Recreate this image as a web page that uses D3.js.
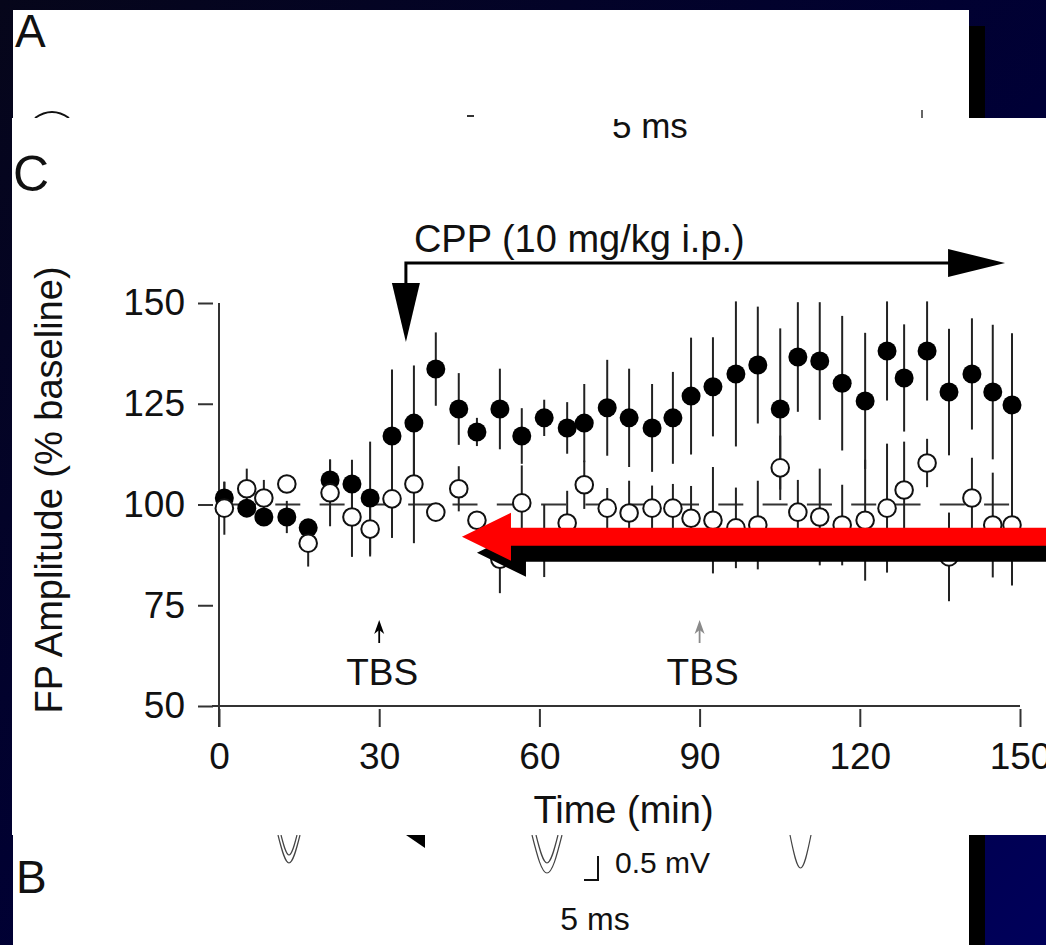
<!DOCTYPE html>
<html>
<head>
<meta charset="utf-8">
<script src="https://cdn.jsdelivr.net/npm/d3@7"></script>
<style>
  html, body { margin: 0; padding: 0; background: #000; }
  svg { display: block; font-family: "Liberation Sans", Arial, Helvetica, sans-serif; }
</style>
</head>
<body>
<svg id="slide" width="1046" height="945"></svg>
<script>
// Sampling times (min)
const times = [1, 5.2, 8.4, 12.7, 16.7, 20.8, 24.9, 28.3, 32.4, 36.5, 40.6, 44.9, 48.3, 52.6,
  56.7, 60.9, 65.2, 68.4, 72.7, 76.8, 81.1, 85.0, 88.4, 92.5, 96.8, 100.9, 105.1, 108.4,
  112.5, 116.7, 121.0, 125.1, 128.3, 132.6, 136.7, 141.0, 144.9, 148.5];

// Filled symbols: FP amplitude (% baseline) and SEM
const filledMean = [101.6, 99.1, 96.9, 96.9, 94.2, 106.1, 105.1, 101.6, 117.0, 120.2, 133.6, 123.7,
  118.0, 123.7, 117.0, 121.5, 119.0, 120.2, 124.0, 121.5, 119.0, 121.5, 126.9, 129.2, 132.4,
  134.6, 123.7, 136.6, 135.6, 130.1, 125.7, 138.1, 131.4, 138.1, 127.9, 132.4, 127.9, 124.7];
const filledSem = [4, 2, 2, 4, 2, 5, 6, 14, 16.5, 14.3, 9.1, 8.9, 3.5, 10, 6.9, 4.5, 6.4, 9.7,
  11.9, 12.2, 10.9, 11.4, 14.5, 12.3, 18, 14.5, 20, 13.6, 14.6, 16.7, 16.9, 12.3, 13.3, 12.3,
  15.7, 13.8, 16.7, 17.8];

// Open symbols: FP amplitude (% baseline) and SEM
const openMean = [99.1, 103.9, 101.6, 105.1, 90.4, 102.9, 96.9, 93.9, 101.4, 105.1, 98.1, 103.9,
  96.1, 86.4, 100.4, 91.0, 95.4, 104.9, 99.1, 97.9, 99.1, 99.1, 96.6, 96.1, 94.2, 94.9, 109.1,
  98.1, 96.9, 94.9, 96.1, 99.1, 103.6, 110.3, 87.0, 101.6, 94.9, 94.9];
const openSem = [6.6, 5, 4.5, 2, 5.8, 8.3, 9.9, 6.8, 9.7, 14.7, 2, 5.6, 2, 8.4, 9.3, 9, 8, 6, 5,
  8, 5.6, 6, 8, 13.2, 10, 11, 8, 8, 12, 10, 15, 16, 12, 6, 11, 10, 13, 15];

const xTicks = [0, 30, 60, 90, 120, 150];
const yTicks = [50, 75, 100, 125, 150];
const tbsTimes = [30, 90];
const cppStart = 35;

const svg = d3.select("#slide");
const W = 1046, H = 945;

// ---- slide background and panels ----
const defs = svg.append("defs");
const grad = defs.append("linearGradient").attr("id", "bg")
  .attr("x1", 0).attr("y1", 0).attr("x2", 1).attr("y2", 1);
grad.append("stop").attr("offset", 0).attr("stop-color", "#06061a");
grad.append("stop").attr("offset", 0.55).attr("stop-color", "#000036");
grad.append("stop").attr("offset", 1).attr("stop-color", "#00005a");
svg.append("rect").attr("width", W).attr("height", H).attr("fill", "url(#bg)");

// panel A (top strip) with drop shadow
svg.append("rect").attr("x", 969).attr("y", 26).attr("width", 16).attr("height", 92).attr("fill", "#000");
svg.append("rect").attr("x", 13).attr("y", 10).attr("width", 956).attr("height", 108).attr("fill", "#fff");
// panel B (bottom strip) with drop shadow
svg.append("rect").attr("x", 969).attr("y", 835).attr("width", 16).attr("height", 110).attr("fill", "#000");
svg.append("rect").attr("x", 13).attr("y", 835).attr("width", 956).attr("height", 110).attr("fill", "#fff");

const ink = "#111";

// panel A pieces
svg.append("text").attr("x", 15).attr("y", 47).attr("font-size", 46).attr("fill", ink).text("A");
svg.append("path").attr("d", "M35,118 Q52,106 69,118").attr("fill", "none").attr("stroke", ink).attr("stroke-width", 2);
svg.append("path").attr("d", "M467,116 L474,116").attr("stroke", "#333").attr("stroke-width", 2);
svg.append("path").attr("d", "M922,110 L922,118").attr("stroke", "#333").attr("stroke-width", 1.5);

// panel B pieces: field-potential traces (V-shaped troughs)
svg.append("text").attr("x", 16).attr("y", 893).attr("font-size", 46).attr("fill", ink).text("B");
const vWave = (x0, x1, depth) => {
  const m = (x0 + x1) / 2, w = (x1 - x0) / 2;
  return `M${x0},835 C${x0 + w * 0.35},${835 + depth * 0.55} ${m - w * 0.35},${835 + depth} ${m},${835 + depth} ` +
    `C${m + w * 0.35},${835 + depth} ${x1 - w * 0.35},${835 + depth * 0.55} ${x1},835`;
};
[[278, 300, 28], [281, 297, 20], [532, 562, 38], [536, 558, 28], [790, 811, 33]].forEach(([a, b, d]) => {
  svg.append("path").attr("d", vWave(a, b, d)).attr("fill", "none").attr("stroke", "#444").attr("stroke-width", 1.2);
});
svg.append("path").attr("d", "M406,835 L425,835 L425,848 Z").attr("fill", "#000");
svg.append("path").attr("d", "M598,856 L598,880 L584,880").attr("fill", "none").attr("stroke", ink).attr("stroke-width", 2);
svg.append("text").attr("x", 615).attr("y", 873).attr("font-size", 30).attr("fill", ink).text("0.5 mV");
svg.append("text").attr("x", 595).attr("y", 930).attr("font-size", 32).attr("text-anchor", "middle").attr("fill", ink).text("5 ms");

// panel C (main chart)
svg.append("rect").attr("x", 12).attr("y", 118).attr("width", W - 12).attr("height", 717).attr("fill", "#fff");
svg.append("text").attr("x", 13).attr("y", 191).attr("font-size", 50).attr("fill", ink).text("C");

// scale-bar label of panel A showing through at the top edge
defs.append("clipPath").attr("id", "topclip").append("rect").attr("x", 0).attr("y", 119).attr("width", W).attr("height", 40);
svg.append("text").attr("x", 612).attr("y", 138).attr("font-size", 35).attr("fill", ink)
  .attr("clip-path", "url(#topclip)").text("5 ms");

// ---- scales ----
const x = d3.scaleLinear().domain([0, 150]).range([219, 1020]);
const y = d3.scaleLinear().domain([50, 150]).range([706, 303]);

const g = svg.append("g");
const axisColor = "#333";

// y axis: detached ticks, separate spine
const yAxis = g.append("g").attr("transform", "translate(213,0)")
  .call(d3.axisLeft(y).tickValues(yTicks).tickSize(15).tickPadding(13).tickFormat(d3.format("d")));
yAxis.select(".domain").remove();
yAxis.selectAll("line").attr("stroke", axisColor).attr("stroke-width", 2);
yAxis.selectAll("text").attr("font-size", 37).attr("fill", ink).attr("font-family", "Liberation Sans, Arial, sans-serif");

const xAxis = g.append("g").attr("transform", "translate(0,709)")
  .call(d3.axisBottom(x).tickValues(xTicks).tickSize(18).tickPadding(16).tickFormat(d3.format("d")));
xAxis.select(".domain").remove();
xAxis.selectAll("line").attr("stroke", axisColor).attr("stroke-width", 2);
xAxis.selectAll("text").attr("font-size", 37).attr("fill", ink).attr("font-family", "Liberation Sans, Arial, sans-serif");

g.append("line").attr("x1", x(0)).attr("x2", x(0)).attr("y1", y(150)).attr("y2", 727)
  .attr("stroke", axisColor).attr("stroke-width", 2);
g.append("line").attr("x1", 212).attr("x2", x(150)).attr("y1", y(50)).attr("y2", y(50))
  .attr("stroke", axisColor).attr("stroke-width", 2);

// axis titles
g.append("text").attr("transform", `translate(62,490) rotate(-90)`)
  .attr("text-anchor", "middle").attr("font-size", 38).attr("fill", ink).text("FP Amplitude (% baseline)");
g.append("text").attr("x", x(75) + 4).attr("y", 823).attr("text-anchor", "middle")
  .attr("font-size", 38).attr("fill", ink).text("Time (min)");

// baseline at 100 %
g.append("line").attr("x1", x(0)).attr("x2", x(150)).attr("y1", y(100)).attr("y2", y(100))
  .attr("stroke", "#333").attr("stroke-width", 2)
  .attr("stroke-dasharray", "25,19.3").attr("stroke-dashoffset", 32.3);

// ---- data ----
const rows = times.map((t, i) => ({
  t, fm: filledMean[i], fs: filledSem[i], om: openMean[i], os: openSem[i]
}));

const bars = g.append("g").attr("stroke", "#222").attr("stroke-width", 2);
bars.selectAll(".fbar").data(rows).join("line").attr("class", "fbar")
  .attr("x1", d => x(d.t)).attr("x2", d => x(d.t))
  .attr("y1", d => y(d.fm + d.fs)).attr("y2", d => y(d.fm - d.fs));
bars.selectAll(".obar").data(rows).join("line").attr("class", "obar")
  .attr("x1", d => x(d.t)).attr("x2", d => x(d.t))
  .attr("y1", d => y(d.om + d.os)).attr("y2", d => y(d.om - d.os));

g.append("g").selectAll("circle").data(rows).join("circle")
  .attr("cx", d => x(d.t)).attr("cy", d => y(d.fm)).attr("r", 9.5).attr("fill", "#000");
g.append("g").selectAll("circle").data(rows).join("circle")
  .attr("cx", d => x(d.t)).attr("cy", d => y(d.om)).attr("r", 8.8)
  .attr("fill", "#fff").attr("stroke", "#111").attr("stroke-width", 2);

// ---- annotations ----
// TBS markers
tbsTimes.forEach((t, i) => {
  const col = i === 0 ? "#000" : "#8a8a8a";
  const ax = x(t);
  g.append("line").attr("x1", ax).attr("x2", ax).attr("y1", 626).attr("y2", 643)
    .attr("stroke", col).attr("stroke-width", 1.8);
  g.append("path").attr("d", `M${ax - 5},634 L${ax},620 L${ax + 5},634 L${ax},630 Z`).attr("fill", col);
  g.append("text").attr("x", ax + 3).attr("y", 685).attr("text-anchor", "middle")
    .attr("font-size", 37).attr("fill", ink).text("TBS");
});

// CPP injection bracket arrow
const cx0 = x(cppStart), cy0 = 263;
g.append("text").attr("x", cx0 + 8).attr("y", 252).attr("font-size", 38).attr("fill", ink).text("CPP (10 mg/kg i.p.)");
g.append("path").attr("d", `M${cx0},${cy0 + 22} L${cx0},${cy0} L${x(147.2) - 56},${cy0}`)
  .attr("fill", "none").attr("stroke", "#000").attr("stroke-width", 3);
g.append("path").attr("d", `M${x(147.2) - 57},${cy0 - 14} L${x(147.2)},${cy0} L${x(147.2) - 57},${cy0 + 14} Z`).attr("fill", "#000");
g.append("path").attr("d", `M${cx0 - 14},${cy0 + 20} L${cx0},${y(140.3)} L${cx0 + 14},${cy0 + 20} Z`).attr("fill", "#000");

// highlight arrows pointing back at the baseline
const arrowPath = (tipX, tipY) =>
  `M${tipX},${tipY} L${tipX + 49},${tipY - 24} L${tipX + 49},${tipY - 9} L${W + 5},${tipY - 9} ` +
  `L${W + 5},${tipY + 9} L${tipX + 49},${tipY + 9} L${tipX + 49},${tipY + 24} Z`;
const tipX = x(45.5), tipY = y(92);
g.append("path").attr("d", arrowPath(tipX + 15, tipY + 16)).attr("fill", "#000");
g.append("path").attr("d", arrowPath(tipX, tipY)).attr("fill", "#ff0000");
</script>
</body>
</html>
